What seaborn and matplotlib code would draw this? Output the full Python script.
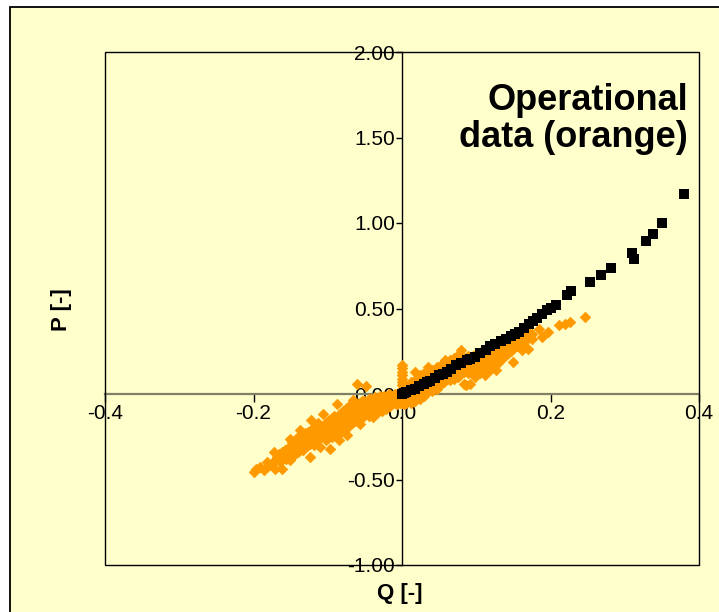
import matplotlib
matplotlib.use("Agg")
import matplotlib.pyplot as plt
from matplotlib.patches import Rectangle
import pandas as pd
import seaborn as sns


# ==========================================================
# Data
# ==========================================================

# model points (black squares)
q_model = [0.000, 0.003, 0.006, 0.012, 0.017, 0.023, 0.029, 0.033, 0.038,
           0.045, 0.050, 0.055, 0.060, 0.066, 0.073, 0.080, 0.087, 0.092,
           0.098, 0.105, 0.113, 0.119, 0.125, 0.133, 0.140, 0.147, 0.152,
           0.157, 0.164, 0.171, 0.177, 0.182, 0.189, 0.195, 0.201, 0.207,
           0.222, 0.228, 0.253, 0.268, 0.282, 0.310, 0.313, 0.328, 0.338,
           0.350, 0.380]
p_model = [0.000, 0.005, 0.012, 0.022, 0.032, 0.046, 0.061, 0.068, 0.076,
           0.092, 0.109, 0.118, 0.129, 0.145, 0.168, 0.182, 0.197, 0.205,
           0.216, 0.238, 0.260, 0.278, 0.295, 0.310, 0.324, 0.340, 0.353,
           0.365, 0.385, 0.408, 0.425, 0.445, 0.468, 0.489, 0.505, 0.523,
           0.577, 0.602, 0.653, 0.696, 0.735, 0.827, 0.788, 0.893, 0.934,
           1.000, 1.172]

# operational data, Q < 0 (orange diamonds)
q_oper_neg = [
    -0.200, -0.196, -0.191, -0.186, -0.182, -0.178, -0.173, -0.171, -0.171,
    -0.168, -0.166, -0.164, -0.162, -0.162, -0.160, -0.158, -0.156, -0.154,
    -0.152, -0.151, -0.151,
    -0.148, -0.148, -0.148, -0.144, -0.144, -0.144, -0.140, -0.140, -0.140,
    -0.137, -0.137, -0.137, -0.134, -0.134, -0.134, -0.130, -0.130, -0.130,
    -0.127, -0.127, -0.127, -0.124, -0.124, -0.124, -0.122, -0.122, -0.122,
    -0.119, -0.119, -0.119, -0.116, -0.116, -0.116, -0.113, -0.113, -0.113,
    -0.110, -0.110, -0.110, -0.106, -0.106, -0.106, -0.103, -0.103, -0.103,
    -0.100, -0.100, -0.100, -0.097, -0.097, -0.097, -0.094, -0.094, -0.094,
    -0.091, -0.091, -0.091, -0.088, -0.088, -0.088, -0.085, -0.085, -0.085,
    -0.082, -0.082, -0.082, -0.079, -0.079, -0.079, -0.076, -0.076, -0.076,
    -0.074, -0.074, -0.074, -0.071, -0.071, -0.071, -0.068, -0.068, -0.068,
    -0.066, -0.066, -0.066, -0.063, -0.063, -0.063, -0.061, -0.061, -0.061,
    -0.057, -0.057, -0.057, -0.054, -0.054, -0.054, -0.051, -0.051, -0.051,
    -0.048, -0.048, -0.048, -0.045, -0.045, -0.045, -0.042, -0.042, -0.042,
    -0.039, -0.039, -0.039, -0.036, -0.036, -0.036, -0.033, -0.033, -0.033,
    -0.030, -0.030, -0.030, -0.027, -0.027, -0.027, -0.024, -0.024, -0.024,
    -0.021, -0.021, -0.021, -0.018, -0.018, -0.018, -0.016, -0.016, -0.016,
    -0.013, -0.013, -0.013, -0.010, -0.010, -0.010, -0.007, -0.007, -0.007,
    -0.005, -0.005, -0.005, -0.003, -0.003, -0.003,
]
p_oper_neg = [
    -0.456, -0.440, -0.427, -0.445, -0.400, -0.415, -0.339, -0.388, -0.437,
    -0.370, -0.350, -0.400, -0.437, -0.339, -0.360, -0.330, -0.380, -0.345,
    -0.310, -0.388, -0.261,
    -0.360, -0.320, -0.280, -0.350, -0.300, -0.270, -0.340, -0.300, -0.250,
    -0.329, -0.290, -0.212, -0.330, -0.280, -0.240, -0.310, -0.270, -0.230,
    -0.300, -0.260, -0.220, -0.368, -0.290, -0.250, -0.154, -0.270, -0.210,
    -0.300, -0.250, -0.200, -0.280, -0.240, -0.190, -0.270, -0.230, -0.170,
    -0.310, -0.260, -0.200, -0.115, -0.240, -0.190, -0.270, -0.220, -0.170,
    -0.260, -0.210, -0.160, -0.319, -0.230, -0.150, -0.250, -0.200, -0.140,
    -0.240, -0.190, -0.130, -0.056, -0.210, -0.160, -0.270, -0.180, -0.120,
    -0.220, -0.170, -0.110, -0.210, -0.150, -0.100, -0.190, -0.140, -0.090,
    -0.242, -0.160, -0.080, -0.190, -0.130, -0.070, -0.170, -0.120, -0.060,
    -0.037, -0.150, -0.100, -0.160, -0.110, -0.060, 0.061, -0.130, -0.080,
    -0.173, -0.100, -0.050, -0.140, -0.090, -0.040, -0.120, -0.080, -0.040,
    0.045, -0.110, -0.060, -0.130, -0.070, -0.030, -0.100, -0.060, -0.030,
    -0.134, -0.037, -0.080, -0.090, -0.050, -0.020, -0.110, -0.060, -0.030,
    -0.080, -0.040, -0.010, -0.100, -0.050, -0.020, -0.070, -0.030, -0.010,
    -0.085, -0.050, -0.020, -0.060, -0.030, 0.000, -0.008, -0.050, -0.070,
    -0.060, -0.030, -0.010, -0.050, -0.020, 0.000, -0.060, -0.030, -0.010,
    -0.040, -0.020, 0.000, -0.054, -0.030, -0.010,
]

# operational data, Q >= 0 (orange diamonds)
q_oper_pos = [
    0.000, 0.000, 0.000, 0.000, 0.000, 0.000, 0.000, 0.000, 0.000, 0.000,
    0.000, 0.000,
    0.003, 0.003, 0.003, 0.003, 0.006, 0.006, 0.006, 0.009, 0.009, 0.009,
    0.012, 0.012, 0.012, 0.012, 0.015, 0.015, 0.015, 0.018, 0.018, 0.018,
    0.018, 0.021, 0.021, 0.021, 0.024, 0.024, 0.024, 0.024, 0.027, 0.027,
    0.027, 0.030, 0.030, 0.030, 0.030, 0.033, 0.033, 0.033, 0.035, 0.035,
    0.035, 0.035, 0.038, 0.038, 0.038, 0.041, 0.041, 0.041, 0.041, 0.044,
    0.044, 0.044, 0.047, 0.047, 0.047, 0.047, 0.050, 0.050, 0.050, 0.053,
    0.053, 0.053, 0.053, 0.056, 0.056, 0.056, 0.058, 0.058, 0.058, 0.061,
    0.061, 0.061, 0.064, 0.064, 0.064, 0.064, 0.067, 0.067, 0.067, 0.070,
    0.070, 0.070, 0.070, 0.073, 0.073, 0.073, 0.076, 0.076, 0.076, 0.076,
    0.080, 0.080, 0.080, 0.083, 0.083, 0.083, 0.083, 0.086, 0.086, 0.086,
    0.089, 0.089, 0.089, 0.092, 0.092, 0.092, 0.095, 0.095, 0.095, 0.098,
    0.098, 0.098, 0.101, 0.101, 0.101, 0.105, 0.105, 0.105, 0.108, 0.108,
    0.108, 0.112, 0.112, 0.112, 0.115, 0.115, 0.115, 0.118, 0.118, 0.118,
    0.122, 0.122, 0.122, 0.127, 0.127, 0.127, 0.131, 0.131, 0.131, 0.135,
    0.135, 0.135, 0.139, 0.139, 0.139, 0.143, 0.143, 0.147, 0.147, 0.150,
    0.150, 0.150, 0.155, 0.155, 0.161, 0.161, 0.161, 0.165, 0.170, 0.170,
    0.170, 0.175, 0.175, 0.184, 0.188, 0.197, 0.211, 0.220, 0.226, 0.246,
]
p_oper_pos = [
    0.170, 0.150, 0.130, 0.110, 0.090, 0.070, 0.050, 0.030, 0.010, -0.010,
    -0.030, -0.050,
    -0.060, -0.030, 0.000, 0.030, -0.050, -0.020, 0.020, -0.040, 0.000, 0.040,
    -0.050, -0.010, 0.030, 0.070, -0.030, 0.010, 0.050, -0.040, 0.020, 0.129,
    0.080, -0.020, 0.030, 0.090, -0.030, 0.010, 0.050, 0.110, 0.000, 0.040,
    0.080, -0.010, 0.030, 0.070, 0.120, 0.010, 0.050, 0.090, 0.158, 0.020,
    0.060, 0.100, 0.030, 0.070, 0.110, 0.020, 0.060, 0.100, 0.140, 0.040,
    0.080, 0.120, 0.030, 0.070, 0.110, 0.160, 0.050, 0.090, 0.130, 0.060,
    0.100, 0.140, 0.170, 0.070, 0.110, 0.150, 0.197, 0.080, 0.120, 0.090,
    0.130, 0.170, 0.080, 0.120, 0.160, 0.200, 0.100, 0.140, 0.180, 0.090,
    0.130, 0.170, 0.210, 0.110, 0.150, 0.190, 0.100, 0.140, 0.180, 0.230,
    0.120, 0.160, 0.256, 0.060, 0.130, 0.170, 0.210, 0.051, 0.140, 0.190,
    0.120, 0.160, 0.220, 0.060, 0.150, 0.200, 0.130, 0.170, 0.220, 0.100,
    0.160, 0.210, 0.140, 0.190, 0.240, 0.120, 0.170, 0.220, 0.150, 0.200,
    0.250, 0.109, 0.180, 0.230, 0.160, 0.210, 0.260, 0.140, 0.190, 0.240,
    0.170, 0.220, 0.270, 0.139, 0.200, 0.250, 0.190, 0.240, 0.280, 0.210,
    0.260, 0.300, 0.220, 0.270, 0.324, 0.240, 0.290, 0.250, 0.300, 0.187,
    0.270, 0.320, 0.280, 0.330, 0.256, 0.300, 0.340, 0.310, 0.265, 0.330,
    0.360, 0.353, 0.320, 0.382, 0.333, 0.363, 0.402, 0.410, 0.421, 0.450,
]

x_ticks = [-0.4, -0.2, 0.0, 0.2, 0.4]
x_tick_labels = ["-0.4", "-0.2", "0.0", "0.2", "0.4"]
y_ticks = [-1.0, -0.5, 0.0, 0.5, 1.0, 1.5, 2.0]
y_tick_labels = ["-1.00", "-0.50", "0.00", "0.50", "1.00", "1.50", "2.00"]

model_df = pd.DataFrame({"Q": q_model, "P": p_model})
oper_df = pd.DataFrame({"Q": q_oper_neg + q_oper_pos,
                        "P": p_oper_neg + p_oper_pos})


# ==========================================================
# Style
# ==========================================================

sns.set_style("white")
plt.rcParams["font.family"] = ["Liberation Sans", "DejaVu Sans"]
plt.rcParams["text.color"] = "black"

BG = "#FFFFCC"
ORANGE = "#FF9900"

W, H = 719, 612

fig = plt.figure(figsize=(W / 100, H / 100), dpi=100, facecolor="white")

# chart area frame
fig.patches.append(
    Rectangle((10 / W, -0.02), 1.0, (H - 7) / H + 0.02,
              transform=fig.transFigure, facecolor=BG,
              edgecolor="black", linewidth=1.3, zorder=-10)
)

ax = fig.add_axes([105 / W, 47 / H, 594 / W, 513 / H])
ax.set_facecolor(BG)


# ==========================================================
# Scatter
# ==========================================================

sns.scatterplot(
    data=oper_df, x="Q", y="P",
    marker="D", s=28, color=ORANGE, edgecolor=ORANGE, linewidth=0.6,
    ax=ax, zorder=3
)

sns.scatterplot(
    data=model_df, x="Q", y="P",
    marker="s", s=58, color="black", edgecolor="black", linewidth=0,
    ax=ax, zorder=4
)

ax.set_xlim(-0.4, 0.4)
ax.set_ylim(-1.0, 2.0)
ax.set_xlabel("")
ax.set_ylabel("")

# axes crossing at origin
ax.spines["left"].set_position(("data", 0))
ax.spines["bottom"].set_position(("data", 0))
ax.spines["left"].set_color("black")
ax.spines["bottom"].set_color("#808066")
ax.spines["left"].set_linewidth(1.0)
ax.spines["bottom"].set_linewidth(1.6)
ax.spines["top"].set_visible(False)
ax.spines["right"].set_visible(False)

ax.add_patch(Rectangle((0, 0), 1, 1, transform=ax.transAxes, fill=False,
                       edgecolor="black", linewidth=1.0, zorder=5,
                       clip_on=False))

ax.set_xticks(x_ticks)
ax.set_xticklabels(x_tick_labels)
ax.set_yticks(y_ticks)
ax.set_yticklabels(y_tick_labels)

ax.tick_params(axis="x", direction="out", length=6, width=1,
               color="black", labelcolor="black", labelsize=15, pad=1,
               bottom=True)
ax.tick_params(axis="y", direction="out", length=4, width=1,
               color="black", labelcolor="black", labelsize=15, pad=1,
               left=True)

ax.text(0.9815, 0.887, "Operational", transform=ax.transAxes,
        ha="right", va="baseline", fontsize=26, fontweight="bold",
        color="black", zorder=6)
ax.text(0.9815, 0.815, "data (orange)", transform=ax.transAxes,
        ha="right", va="baseline", fontsize=26, fontweight="bold",
        color="black", zorder=6)

fig.text(400 / W, 1 - 593 / H, "Q [-]", ha="center", va="center",
         fontsize=16, fontweight="bold", color="black")
fig.text(62 / W, 1 - 310 / H, "P [-]", ha="center", va="center",
         rotation=90, fontsize=16, fontweight="bold", color="black")

fig.savefig("out.png", dpi=100, facecolor="white")
